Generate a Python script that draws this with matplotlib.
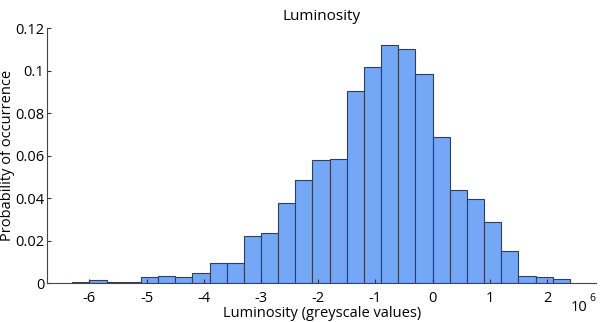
import numpy as np
import matplotlib
matplotlib.use('Agg')
import matplotlib.pyplot as plt
from matplotlib.ticker import FuncFormatter

# --- Data ---
bin_start = -6.3e6
bin_width = 0.3e6
probabilities = [0.0005, 0.0012, 0.0005, 0.0005, 0.0028, 0.0033, 0.0028, 0.0047,
                 0.0095, 0.0095, 0.0220, 0.0234, 0.0375, 0.0484, 0.0578, 0.0583,
                 0.0904, 0.1015, 0.1119, 0.1100, 0.0982, 0.0689, 0.0437, 0.0395,
                 0.0285, 0.0150, 0.0033, 0.0028, 0.0019]
x_ticks = [-6e6, -5e6, -4e6, -3e6, -2e6, -1e6, 0, 1e6, 2e6]
y_ticks = [0, 0.02, 0.04, 0.06, 0.08, 0.1, 0.12]

plt.rcParams['font.family'] = ['Open Sans', 'DejaVu Sans']
plt.rcParams['axes.unicode_minus'] = False

lefts = bin_start + bin_width * np.arange(len(probabilities))

fig = plt.figure(figsize=(6.04, 3.22), dpi=100)
ax = fig.add_axes([0.078, 0.121, 0.909, 0.792])

ax.bar(lefts, probabilities, width=bin_width, align='edge',
       color='#74a7f6', edgecolor='#2f3f58', linewidth=0.8)

ax.set_xlim(-6.74e6, 2.86e6)
ax.set_ylim(0, 0.12)
ax.set_xticks(x_ticks)
ax.set_yticks(y_ticks)
ax.xaxis.set_major_formatter(FuncFormatter(lambda v, _: f'{v/1e6:g}'))
ax.yaxis.set_major_formatter(FuncFormatter(lambda v, _: f'{v:g}'))

for s in ['top', 'right']:
    ax.spines[s].set_visible(False)
for s in ['left', 'bottom']:
    ax.spines[s].set_color('#444444')
    ax.spines[s].set_linewidth(0.8)
ax.tick_params(direction='in', length=3, width=0.8, color='#333333',
               labelsize=10.5)
ax.tick_params(axis='x', pad=5.5)
ax.tick_params(axis='y', pad=2)

ax.set_title('Luminosity', fontsize=11, pad=6)
ax.set_xlabel('Luminosity (greyscale values)', fontsize=10.5, labelpad=0)
ax.set_ylabel('Probability of occurrence', fontsize=10.5, labelpad=0)

# MATLAB-style axis multiplier
ax.text(0.953, -0.095, '10', transform=ax.transAxes, fontsize=10.5, va='center')
ax.text(0.988, -0.062, '6', transform=ax.transAxes, fontsize=7.5, va='center')

plt.savefig('out.png', dpi=100)
